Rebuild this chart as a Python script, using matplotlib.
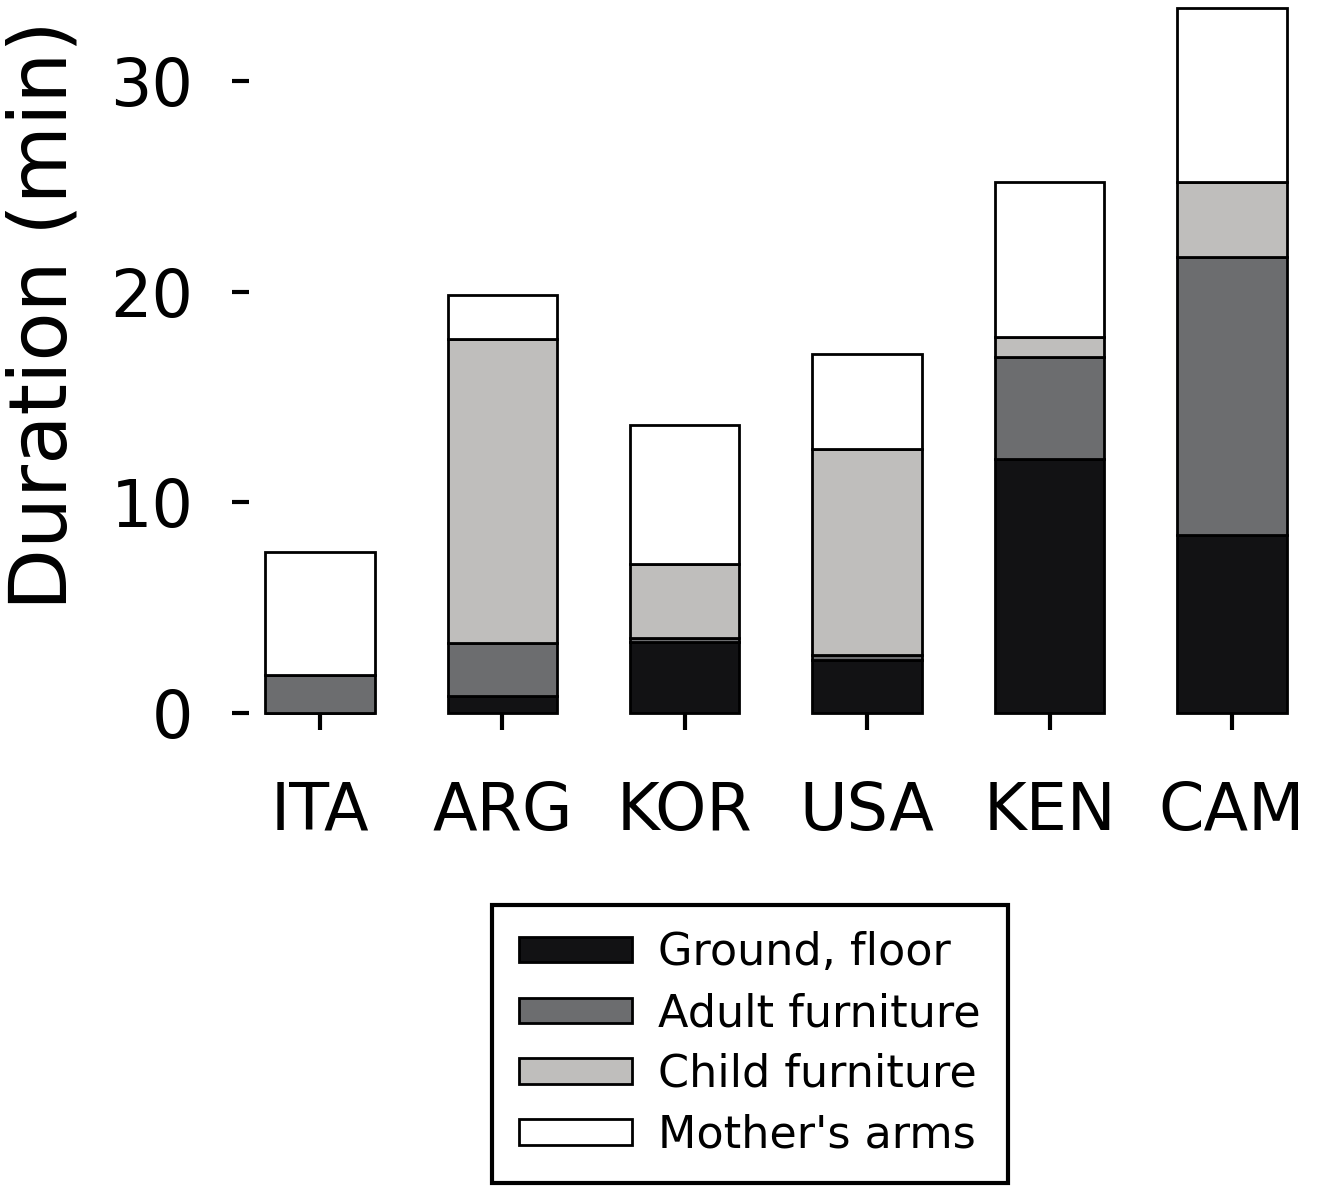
import numpy as np
import matplotlib
matplotlib.use("Agg")
import matplotlib.pyplot as plt

# Data (minutes)
countries = ["ITA", "ARG", "KOR", "USA", "KEN", "CAM"]
ground = [0.0, 0.8, 3.37, 2.5, 12.05, 8.45]
adult = [1.82, 2.52, 0.19, 0.25, 4.85, 13.18]
child = [0.0, 14.43, 3.51, 9.78, 0.95, 3.57]
mother = [5.82, 2.09, 6.6, 4.51, 7.35, 8.26]

series_labels = ["Ground, floor", "Adult furniture", "Child furniture", "Mother's arms"]
series_colors = ["#121214", "#6c6d6f", "#bfbebc", "#ffffff"]

fig = plt.figure(figsize=(13.26, 11.88), dpi=100)
ax = fig.add_axes([0.1878, 0.3998, 0.7963, 0.5995])

x = np.arange(len(countries))
bottom = np.zeros(len(countries))
for vals, lab, col in zip([ground, adult, child, mother], series_labels, series_colors):
    vals = np.array(vals)
    ax.bar(x, vals, width=0.6, bottom=bottom, color=col, edgecolor="black",
           linewidth=2, label=lab, clip_on=False)
    bottom += vals

ax.set_xlim(-0.389, 5.4)
ax.set_ylim(0, 33.8)
for s in ax.spines.values():
    s.set_visible(False)

ax.set_xticks(x)
ax.set_xticklabels(countries)
ax.set_yticks([0, 10, 20, 30])
ax.tick_params(axis="both", direction="out", length=12, width=3, labelsize=47)
ax.tick_params(axis="y", pad=28)
ax.tick_params(axis="x", pad=36)
ax.set_ylabel("Duration (min)", fontsize=58)
ax.yaxis.set_label_coords(-0.157, 0.559)

leg = fig.legend(loc="center", bbox_to_anchor=(0.5656, 0.1212), fontsize=32,
                 handlelength=2.54, handleheight=0.5, handletextpad=0.6,
                 labelspacing=0.4, borderpad=0.6, fancybox=False, framealpha=1)
leg.get_frame().set_edgecolor("black")
leg.get_frame().set_linewidth(3)

fig.savefig("out.png", dpi=100)
